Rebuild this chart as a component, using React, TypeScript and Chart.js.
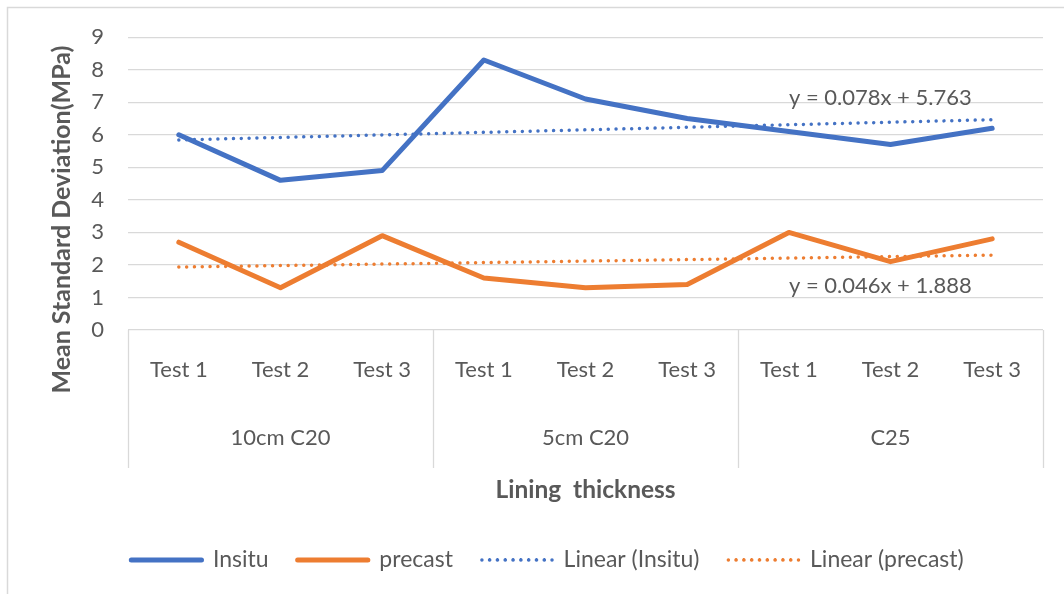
import React, { useEffect, useRef } from "react";
import { Chart, registerables } from "chart.js";

Chart.register(...registerables);

const testLabels = ["Test 1", "Test 2", "Test 3", "Test 1", "Test 2", "Test 3", "Test 1", "Test 2", "Test 3"];
const groupLabels = ["10cm C20", "5cm C20", "C25"];
const insitu = [6.0, 4.6, 4.9, 8.3, 7.1, 6.5, 6.1, 5.7, 6.2];
const precast = [2.7, 1.3, 2.9, 1.6, 1.3, 1.4, 3.0, 2.1, 2.8];
// trendline values read from the displayed regression equations
const insituTrend = [5.841, 5.919, 5.997, 6.075, 6.153, 6.231, 6.309, 6.387, 6.465];
const precastTrend = [1.934, 1.98, 2.026, 2.072, 2.118, 2.164, 2.21, 2.256, 2.302];
const insituEq = "y = 0.078x + 5.763";
const precastEq = "y = 0.046x + 1.888";
const yTitle = "Mean Standard Deviation(MPa)";
const xTitle = "Lining  thickness";

const BLUE = "#4472C4";
const ORANGE = "#ED7D31";
const TEXT = "#595959";
const GRID = "#d9d9d9";
const FONT = "Lato";

const framePlugin = {
  id: "frame",
  beforeDraw(chart: any) {
    const { ctx, width, height } = chart;
    ctx.save();
    ctx.fillStyle = "#ffffff";
    ctx.fillRect(0, 0, width, height);
    ctx.strokeStyle = "#d9d9d9";
    ctx.lineWidth = 1.5;
    ctx.strokeRect(7.5, 7.5, width + 20, height + 20);
    ctx.restore();
  },
  afterDraw(chart: any) {
    const { ctx, chartArea } = chart;
    const x = chart.scales.x;
    const y = chart.scales.y;
    ctx.save();
    ctx.strokeStyle = GRID;
    ctx.lineWidth = 1.3;
    const bottom = chartArea.bottom + 138;
    [-0.5, 2.5, 5.5, 8.5].forEach((v) => {
      const px = Math.round(x.getPixelForValue(v)) + 0.5;
      ctx.beginPath();
      ctx.moveTo(px, chartArea.bottom);
      ctx.lineTo(px, bottom);
      ctx.stroke();
    });
    ctx.fillStyle = TEXT;
    ctx.font = `22px ${FONT}`;
    ctx.textAlign = "center";
    ctx.textBaseline = "middle";
    ctx.fillText(insituEq, x.getPixelForValue(6.9), y.getPixelForValue(7.13));
    ctx.fillText(precastEq, x.getPixelForValue(6.9), y.getPixelForValue(1.35));
    // y-axis title, centred over plot + category box as in the original
    ctx.translate(62, (chartArea.top + bottom) / 2 - 33);
    ctx.rotate(-Math.PI / 2);
    ctx.font = `bold 25px ${FONT}`;
    ctx.fillText(yTitle, 0, 0);
    ctx.restore();
  },
};

export default function App() {
  const ref = useRef<HTMLCanvasElement | null>(null);
  useEffect(() => {
    if (!ref.current) return;
    const dotted = {
      borderWidth: 3.5,
      borderDash: [0.01, 7.8],
      borderCapStyle: "round",
      pointRadius: 0,
      fill: false,
      tension: 0,
    };
    const chart = new Chart(ref.current, {
      type: "line",
      data: {
        labels: testLabels,
        datasets: [
          {
            label: "Insitu",
            data: insitu,
            borderColor: BLUE,
            backgroundColor: BLUE,
            borderWidth: 5,
            borderCapStyle: "round",
            borderJoinStyle: "round",
            pointRadius: 0,
            order: 1,
          },
          {
            label: "precast",
            data: precast,
            borderColor: ORANGE,
            backgroundColor: ORANGE,
            borderWidth: 5,
            borderCapStyle: "round",
            borderJoinStyle: "round",
            pointRadius: 0,
            order: 2,
          },
          {
            label: "Linear (Insitu)",
            data: insituTrend,
            borderColor: BLUE,
            backgroundColor: BLUE,
            ...dotted,
            order: 3,
          } as any,
          {
            label: "Linear (precast)",
            data: precastTrend,
            borderColor: ORANGE,
            backgroundColor: ORANGE,
            ...dotted,
            order: 4,
          } as any,
        ],
      },
      options: {
        animation: false,
        responsive: false,
        maintainAspectRatio: false,
        layout: { padding: { left: 52, right: 21, top: 37, bottom: 12.5 } },
        plugins: {
          tooltip: { enabled: false },
          legend: {
            position: "bottom",
            labels: {
              usePointStyle: false,
              boxWidth: 70.2,
              boxHeight: 0,
              color: TEXT,
              font: { family: FONT, size: 23 },
              padding: 29,
            },
          },
        },
        scales: {
          x: {
            type: "category",
            position: "bottom",
            offset: true,
            grid: { display: false, drawTicks: false },
            border: { display: false },
            ticks: {
              color: TEXT,
              font: { family: FONT, size: 22 },
              padding: 27,
              maxRotation: 0,
              autoSkip: false,
            },
            afterFit: (s: any) => {
              s.height = 68;
            },
          },
          x2: {
            type: "category",
            position: "bottom",
            labels: groupLabels,
            offset: true,
            grid: { display: false, drawTicks: false },
            border: { display: false },
            ticks: {
              color: TEXT,
              font: { family: FONT, size: 22 },
              padding: 27,
              maxRotation: 0,
              autoSkip: false,
            },
            title: {
              display: true,
              text: xTitle,
              color: TEXT,
              font: { family: FONT, size: 24.5, weight: "bold" },
              padding: { top: 0, bottom: 14.8 },
            },
            afterFit: (s: any) => {
              s.height = 121.5;
            },
          },
          y: {
            min: 0,
            max: 9,
            ticks: {
              stepSize: 1,
              color: TEXT,
              font: { family: FONT, size: 22 },
              padding: 24,
            },
            grid: { color: GRID, lineWidth: 1.3, drawTicks: false },
            border: { display: false },
            afterFit: (s: any) => {
              s.width = 76;
            },
          },
        },
      },
      plugins: [framePlugin],
    } as any);
    return () => chart.destroy();
  }, []);
  return (
    <div style={{ position: "fixed", left: 0, top: 0, width: 1064, height: 594 }}>
      <canvas ref={ref} width={1064} height={594} style={{ width: 1064, height: 594, display: "block" }} />
    </div>
  );
}
